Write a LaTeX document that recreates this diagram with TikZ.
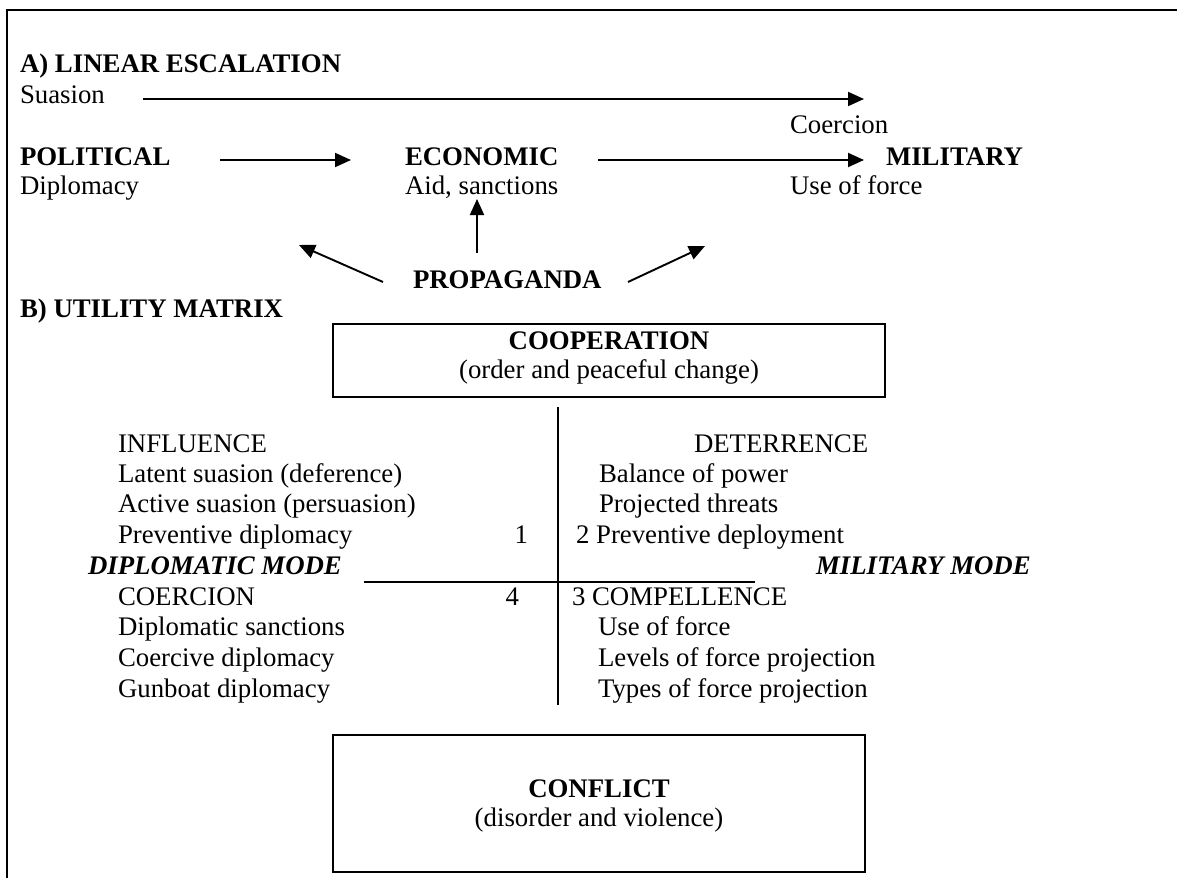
\documentclass[tikz,border=0pt]{standalone}
\usepackage{fontspec}
\setmainfont{Liberation Serif}
\usetikzlibrary{arrows.meta}
\begin{document}
\begin{tikzpicture}[x=1pt,y=-1pt,
  every node/.style={inner sep=0pt,outer sep=0pt,anchor=base west,font=\fontsize{26.8}{31}\selectfont},
  bf/.style={font=\fontsize{26.8}{31}\selectfont\bfseries},
  bfit/.style={font=\fontsize{26.8}{31}\selectfont\bfseries\itshape},
  ctr/.style={anchor=base},
  arr/.style={line width=1.9pt,-{Triangle[length=16pt,width=14pt]}},
  frameline/.style={line width=2pt},
  boxframe/.style={draw,line width=2pt,anchor=north west},
  axisline/.style={line width=1.3pt}]
\fill[white] (0,0) rectangle (1177,878);
\useasboundingbox (0,0) rectangle (1177,878);
% outer frame (top and left only)
\coordinate (fTL) at (7,10);
\coordinate (fTR) at (1177,10);
\coordinate (fBL) at (7,878);
\draw[frameline] (fTR) -- (fTL) -- (fBL);

% A) linear escalation
\node[bf] (titleA) at (20,72) {A) LINEAR ESCALATION};
\node (suasion) at (20,103) {Suasion};
\coordinate (sA) at (143,99);
\coordinate (sB) at (864,99);
\draw[arr] (sA) -- (sB);
\node (coercionA) at (790,133) {Coercion};

\node[bf] (political) at (20,165) {POLITICAL};
\node (diplomacy) at (20,194) {Diplomacy};
\node[bf] (economic) at (405,165) {ECONOMIC};
\node (aid) at (405,194) {Aid, sanctions};
\node[bf] (military) at (886,165) {MILITARY};
\node (useforceA) at (790,194) {Use of force};
\coordinate (p1) at (220,160);
\coordinate (p2) at (351,160);
\coordinate (e1) at (598,160);
\coordinate (e2) at (864,160);
\draw[arr] (p1) -- (p2);
\draw[arr] (e1) -- (e2);

\node[bf] (propaganda) at (413,288) {PROPAGANDA};
\coordinate (u1) at (477,253);
\coordinate (u2) at (477,199);
\coordinate (l1) at (383,282);
\coordinate (l2) at (299,245);
\coordinate (r1) at (628,282);
\coordinate (r2) at (705,246);
\draw[arr] (u1) -- (u2);
\draw[arr] (l1) -- (l2);
\draw[arr] (r1) -- (r2);

% B) utility matrix
\node[bf] (titleB) at (20,317) {B) UTILITY MATRIX};
\node[boxframe,minimum width=552pt,minimum height=73pt] (coop) at (333,324) {};
\node[bf,ctr] (coopT) at (609,349) {COOPERATION};
\node[ctr] (coopS) at (609,378) {(order and peaceful change)};

\coordinate (vTop) at (558,407);
\coordinate (vBot) at (558,705);
\coordinate (hL) at (364,582);
\coordinate (hR) at (755,582);
\draw[axisline] (vTop) -- (vBot);
\draw[axisline] (hL) -- (hR);

\node (influence) at (118,452) {INFLUENCE};
\node (latent) at (118,482) {Latent suasion (deference)};
\node (active) at (118,512) {Active suasion (persuasion)};
\node (prevdip) at (118,543) {Preventive diplomacy};
\node[anchor=base east] (q1) at (528,543) {1};

\node (deterrence) at (694,452) {DETERRENCE};
\node (balance) at (599,482) {Balance of power};
\node (threats) at (599,512) {Projected threats};
\node (prevdep) at (576,543) {2 Preventive deployment};

\node[bfit] (dipmode) at (88,574) {DIPLOMATIC MODE};
\node[bfit] (milmode) at (816,574) {MILITARY MODE};

\node (coercionB) at (118,605) {COERCION};
\node[anchor=base east] (q4) at (519,605) {4};
\node (compellence) at (572,605) {3 COMPELLENCE};

\node (dipsanc) at (118,635) {Diplomatic sanctions};
\node (coercdip) at (118,666) {Coercive diplomacy};
\node (gunboat) at (118,697) {Gunboat diplomacy};
\node (useforceB) at (598,635) {Use of force};
\node (levels) at (598,666) {Levels of force projection};
\node (types) at (598,697) {Types of force projection};

\node[boxframe,minimum width=532pt,minimum height=137pt] (conflict) at (333,735) {};
\node[bf,ctr] (conflictT) at (599,797) {CONFLICT};
\node[ctr] (conflictS) at (599,826) {(disorder and violence)};
\end{tikzpicture}
\end{document}
